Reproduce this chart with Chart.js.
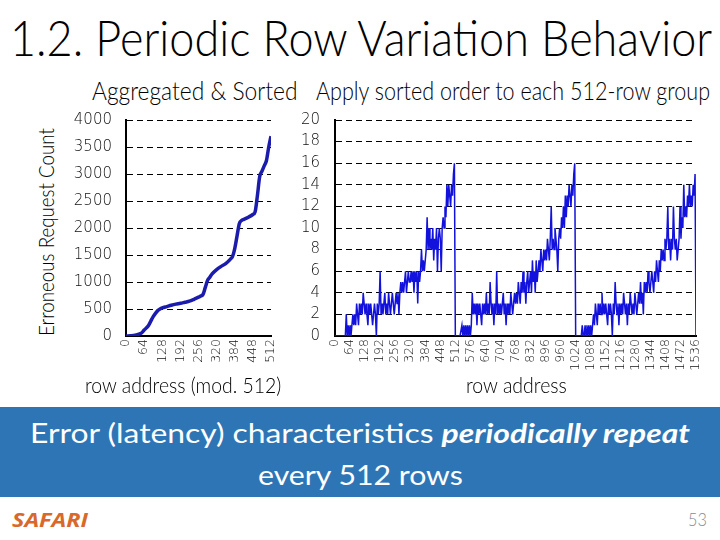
<!DOCTYPE html>
<html>
<head>
<meta charset="utf-8">
<script src="https://cdn.jsdelivr.net/npm/chart.js@4.4.0/dist/chart.umd.min.js"></script>
<style>
html,body{margin:0;padding:0;background:#fff;}
#slide{position:relative;width:720px;height:540px;overflow:hidden;background:#fff;font-family:'Lato','Open Sans',sans-serif;}
.t{position:absolute;white-space:nowrap;transform-origin:0 0;line-height:1;margin:0;}
#title{left:10px;top:13px;font-size:49px;font-weight:300;color:#000;}
#sub1{left:92px;top:77px;font-size:26px;font-weight:300;color:#000;}
#sub2{left:316px;top:77px;font-size:26px;font-weight:300;color:#000;}
#ytitle{left:35px;top:336px;font-size:21px;font-weight:300;color:#000;}
#xt1{left:85px;top:374px;font-size:22px;font-weight:300;color:#000;}
#xt2{left:466px;top:374px;font-size:22px;font-weight:300;color:#000;}
#banner{position:absolute;left:0;top:407px;width:720px;height:90px;background:#2E75B6;}
#b1{left:30px;top:419px;font-size:27px;font-weight:400;color:#fff;}
#b1 b{font-weight:700;font-style:italic;}
#b2{left:258px;top:461px;font-size:27px;font-weight:400;color:#fff;}
#safari{left:12px;top:510px;font-size:20px;font-weight:700;font-style:italic;color:#d8692a;font-family:'Open Sans','Lato',sans-serif;}
#pnum{left:688px;top:510px;font-size:18px;font-weight:300;color:#8a8a8a;}
#c1wrap{position:absolute;left:60px;top:110px;width:220px;height:270px;}
#c2wrap{position:absolute;left:290px;top:110px;width:420px;height:270px;}
</style>
</head>
<body>
<div id="slide">
  <div id="title" class="t" data-w="702">1.2. Periodic Row Variation Behavior</div>
  <div id="sub1" class="t" data-w="206">Aggregated &amp; Sorted</div>
  <div id="sub2" class="t" data-w="394">Apply sorted order to each 512-row group</div>
  <div id="ytitle" class="t" data-w="208" data-rot="1">Erroneous Request Count</div>
  <div id="c1wrap"><canvas id="c1" width="220" height="270"></canvas></div>
  <div id="c2wrap"><canvas id="c2" width="420" height="270"></canvas></div>
  <div id="xt1" class="t" data-w="196">row address (mod. 512)</div>
  <div id="xt2" class="t" data-w="101">row address</div>
  <div id="banner"></div>
  <div id="b1" class="t" data-w="660">Error (latency) characteristics <b>periodically repeat</b></div>
  <div id="b2" class="t" data-w="205">every 512 rows</div>
  <div id="safari" class="t" data-w="76">SAFARI</div>
  <div id="pnum" class="t" data-w="19">53</div>
</div>
<script>
// ---------- Left chart: aggregated & sorted ----------
const leftRows   = [0,16,32,48,56,64,72,80,88,96,104,112,120,128,144,160,176,192,208,224,240,256,264,272,280,288,296,304,320,336,352,368,376,384,392,400,408,416,432,448,456,464,472,480,488,496,504,512];
const leftCounts = [0,5,15,40,60,110,150,200,280,360,420,470,500,520,545,570,590,605,625,645,680,720,740,770,900,1030,1090,1150,1230,1290,1340,1420,1470,1620,1850,2080,2140,2160,2200,2250,2300,2600,2950,3050,3150,3250,3500,3700];
const leftTicksX = [0,64,128,192,256,320,384,448,512];
const leftTicksY = [0,500,1000,1500,2000,2500,3000,3500,4000];

// ---------- Right chart: sorted order applied to each 512-row group ----------
const ROW_STEP = 4;
const group1 = [
  0,0,0,0,0,0,0,0,0,0,0,0,2,0,1,0,
  1,0,1,2,1,2,1,3,2,1,3,2,3,2,4,3,
  2,3,2,1,3,2,3,2,1,2,3,2,0,3,2,3,
  6,2,3,2,3,4,2,3,2,4,3,2,3,4,3,2,
  3,4,3,4,2,4,5,4,5,4,5,6,4,5,6,5,
  5,6,5,6,4,6,5,6,3,6,5,6,8,6,7,6,
  7,8,11,8,10,8,9,8,10,7,9,8,10,6,9,10,
  9,6,10,11,10,12,11,14,12,14,13,12,14,13,15,16
];
const group2 = [
  0,0,0,0,0,0,0,1,0,1,0,1,0,1,0,1,
  0,1,4,2,3,2,3,1,3,2,3,2,1,3,2,3,
  2,4,2,3,2,5,3,2,3,1,3,2,6,2,3,2,
  3,2,3,4,2,3,1,3,2,3,2,4,3,2,3,4,
  3,4,3,5,4,3,5,4,6,4,5,3,5,6,4,5,
  6,4,7,5,6,4,7,5,6,7,6,8,7,6,8,7,
  8,7,9,8,7,9,12,8,9,8,10,9,8,6,9,10,
  9,11,10,12,10,13,11,13,12,14,13,12,14,13,15,16
];
const group3 = [
  0,0,0,0,0,0,0,1,0,0,1,0,1,0,1,0,
  1,0,1,2,1,3,2,1,3,2,3,2,4,2,3,2,
  3,2,1,3,2,3,2,0,3,2,5,3,2,3,1,3,
  2,3,2,4,3,2,3,1,3,2,4,3,2,3,2,4,
  3,2,3,4,3,5,3,4,2,5,4,5,4,6,5,4,
  5,6,5,4,6,5,7,6,5,7,6,8,7,8,7,9,
  8,9,12,8,9,7,9,8,12,9,8,9,7,8,9,12,
  9,11,10,14,11,12,11,13,12,14,12,13,12,14,13,15
];
const tailValue = [0];
const rightTicksY = [0,2,4,6,8,10,12,14,16,18,20];
const rightMaxRow = 1536;

const rightValues = group1.concat(group2, group3, tailValue);
const rightPoints = rightValues.map((v,i)=>({x:i*ROW_STEP, y:v}));
const leftPoints = leftRows.map((r,i)=>({x:r, y:leftCounts[i]}));

const tickFontY = {family:'DejaVu Sans', size:15, weight:'200'};
const tickFontX = {family:'DejaVu Sans', size:12.5, weight:'200'};
const tickColor = '#111';
const plain = v => String(v);

function makeChart(id, points, lineOpts, xMax, yMax, yStep, yWidth, padRight, yPad){
  return new Chart(document.getElementById(id), {
    type:'line',
    data:{datasets:[Object.assign({data:points, pointRadius:0, fill:false}, lineOpts)]},
    options:{
      responsive:false, animation:false, devicePixelRatio:1,
      plugins:{legend:{display:false}, tooltip:{enabled:false}, title:{display:false}},
      layout:{padding:{top:10, right:padRight, left:0, bottom:0}},
      scales:{
        x:{type:'linear', min:0, max:xMax,
           afterFit:s=>{s.height=44; s.paddingLeft=0; s.paddingRight=0;},
           ticks:{stepSize:64, autoSkip:false, maxRotation:90, minRotation:90, font:tickFontX, color:tickColor, padding:3, callback:plain},
           grid:{display:false, drawTicks:false},
           border:{display:true, color:'#000', width:2}},
        y:{type:'linear', min:0, max:yMax,
           afterFit:s=>{s.width=yWidth; s.paddingTop=0; s.paddingBottom=0;},
           ticks:{stepSize:yStep, font:tickFontY, color:tickColor, padding:yPad, callback:plain},
           grid:{display:true, color:'#000', lineWidth:1, drawTicks:false},
           border:{display:true, color:'#000', width:2, dash:[6,4]}}
      }
    }
  });
}

makeChart('c1', leftPoints, {borderColor:'#1c1cac', borderWidth:3.5, cubicInterpolationMode:'monotone'},
          leftTicksX[leftTicksX.length-1], leftTicksY[leftTicksY.length-1], 500, 66, 9, 14);
makeChart('c2', rightPoints, {borderColor:'#1212dc', borderWidth:1.5, tension:0},
          rightMaxRow, rightTicksY[rightTicksY.length-1], 2, 45, 14, 15);

function fit(){
  document.querySelectorAll('[data-w]').forEach(el=>{
    const w = el.offsetWidth;
    if(!w) return;
    const k = parseFloat(el.dataset.w)/w;
    el.style.transform = (el.dataset.rot ? 'rotate(-90deg) ' : '') + 'scaleX(' + k + ')';
  });
}
fit();
if(document.fonts && document.fonts.ready){ document.fonts.ready.then(fit); }
</script>
</body>
</html>
